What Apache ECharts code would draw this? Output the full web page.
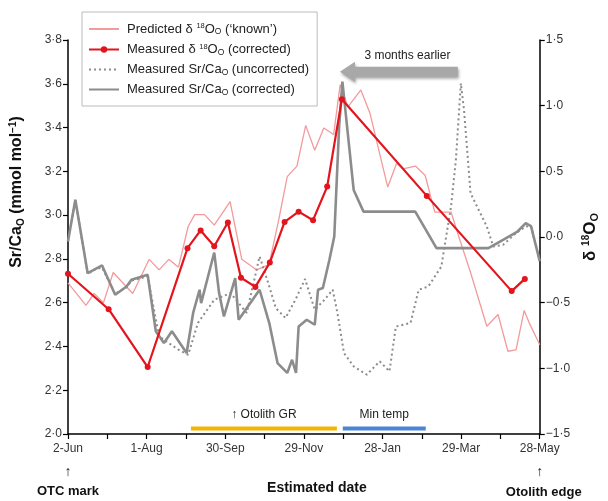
<!DOCTYPE html>
<html><head><meta charset="utf-8">
<script src="https://cdn.jsdelivr.net/npm/echarts@6/dist/echarts.min.js"></script>
<style>html,body{margin:0;padding:0;background:#fff}#c{width:608px;height:501px}</style>
</head><body><div id="c"></div>
<script>
// ---- data (days since 2-Jun) ----
const xTickLabels = ['2-Jun','1-Aug','30-Sep','29-Nov','28-Jan','29-Mar','28-May'];

const predDays = [0,13.7,19.9,27.1,34.5,49.4,62,69.5,76.9,84.3,91.7,96.7,104.2,111.6,123.7,132.6,143.8,153.4,160.8,167.3,174.7,181.4,188.3,195.2,202.7,207.7,213.6,223.5,230.5,244,250.7,256.5,265.1,272.5,279.9,292.3,298.3,307.2,319.6,328.2,335.7,341.9,348.1,351.8,360];
const predVals = [-0.35,-0.52,-0.43,-0.50,-0.27,-0.43,-0.17,-0.25,-0.17,-0.23,0.08,0.17,0.17,0.09,0.27,-0.17,-0.25,-0.21,0.13,0.46,0.54,0.85,0.66,0.83,0.78,1.16,0.99,1.12,0.94,0.38,0.56,0.52,0.54,0.47,0.19,0.19,0.0,-0.27,-0.68,-0.59,-0.87,-0.86,-0.56,-0.65,-0.82];

const measDays = [0,31,60.8,91.2,101.2,111.6,122,132,143,154,165.3,176,187,197.8,209,273.8,338.6,348.6];
const measVals = [-0.28,-0.55,-0.99,-0.085,0.05,-0.07,0.11,-0.31,-0.38,-0.195,0.115,0.193,0.128,0.384,1.049,0.313,-0.412,-0.319];

const uncDays = [0,5.6,15,19.7,26,36,44.7,48.4,60.8,69.5,84.3,91.7,99.2,111.6,124,136.4,146.2,153.6,158.6,166,173.5,180.9,188.3,195.7,202,205.6,210.6,218,228,237.9,245.3,250.2,261.4,267.6,275,284.9,292.3,296,299.8,302.2,307.2,319.6,324.5,332,341.9,349.3,353.3,360];
const uncVals = [2.88,3.07,2.73,2.75,2.76,2.64,2.67,2.70,2.72,2.446,2.385,2.362,2.508,2.613,2.644,2.553,2.811,2.674,2.575,2.53,2.613,2.708,2.568,2.613,2.659,2.553,2.37,2.309,2.271,2.332,2.286,2.491,2.507,2.659,2.674,2.765,3.039,3.252,3.602,3.481,3.1,2.948,2.857,2.864,2.918,2.948,2.95,2.79];

const corDays = [0,5.6,15,19.7,26,36,44.7,48.4,60.8,67,73.2,79.3,90.5,95.5,100.4,101.6,111.6,115.3,119,127.6,130.2,146.2,153.6,159.9,167.3,171,174,176,182.2,188.3,190.8,194.5,199.5,203.2,206.9,209.4,218,225.5,265,281.2,320.8,332,343,349.3,353.3,360];
const corVals = [2.88,3.07,2.735,2.75,2.77,2.636,2.674,2.705,2.727,2.469,2.416,2.469,2.37,2.553,2.659,2.598,2.829,2.644,2.537,2.712,2.522,2.659,2.507,2.324,2.279,2.339,2.279,2.491,2.522,2.499,2.659,2.667,2.796,2.902,3.404,3.61,3.115,3.016,3.016,2.849,2.849,2.887,2.925,2.963,2.95,2.79];

// period bars (start day, end day) at a Sr/Ca level
const grBarDays = [93.8, 205.2];
const tempBarDays = [209.7, 273];
const barLevel = 2.025;

// arrow annotation (days, Sr/Ca level)
const arrowTipDay = 207.5, arrowTailDay = 297.5, arrowLevel = 3.655;
const arrowTextDay = 259, arrowTextLevel = 3.727;

const zip = (a, b) => a.map((d, i) => [d, b[i]]);
const FONT = '"Liberation Sans", Arial, sans-serif';
const dot = v => v.toFixed(1).replace('.', '·').replace('-', '−');

const rich = {
  n: {fontSize: 13, color: '#222', fontFamily: FONT},
  sup: {fontSize: 7.5, color: '#222', fontFamily: FONT, padding: [0, 0, 6, 0]},
  sub: {fontSize: 8.5, color: '#222', fontFamily: FONT, padding: [6, 0, 0, 0]}
};
const legendNames = {
  pred: '{n|Predicted δ }{sup|18}{n|O}{sub|O}{n| (‘known’)}',
  meas: '{n|Measured δ }{sup|18}{n|O}{sub|O}{n| (corrected)}',
  unc: '{n|Measured Sr/Ca}{sub|O}{n| (uncorrected)}',
  cor: '{n|Measured Sr/Ca}{sub|O}{n| (corrected)}'
};

const chart = echarts.init(document.getElementById('c'), null, {renderer: 'canvas'});
const GREY = '#8c8c8c';

chart.setOption({
  animation: false,
  textStyle: {fontFamily: FONT},
  grid: {left: 66, right: 57, top: 40, bottom: 67},
  legend: {
    data: [
      {name: 'pred', itemStyle: {opacity: 0}},
      {name: 'meas'},
      {name: 'unc', itemStyle: {opacity: 0}},
      {name: 'cor', itemStyle: {opacity: 0}}
    ],
    orient: 'vertical', left: 82, top: 12,
    padding: [10, 8, 9, 6],
    itemWidth: 30, itemHeight: 8, itemGap: 6,
    borderColor: '#bbb', borderWidth: 1,
    formatter: n => legendNames[n],
    textStyle: {rich: rich, padding: [0, 0, 0, 3]}
  },
  xAxis: {
    type: 'value', min: 0, max: 360, interval: 30,
    axisLine: {show: true, onZero: false, lineStyle: {color: '#000', width: 1.5}},
    axisTick: {show: true, length: 5, lineStyle: {color: '#000', width: 1.2}},
    axisLabel: {formatter: v => (v % 60 === 0 ? xTickLabels[v / 60] : ''), color: '#333', fontSize: 12, margin: 9},
    splitLine: {show: false},
    name: 'Estimated date', nameLocation: 'middle', nameGap: 47,
    nameTextStyle: {fontWeight: 'bold', fontSize: 14, color: '#111', padding: [0, 0, 0, 26]}
  },
  yAxis: [{
    type: 'value', min: 2.0, max: 3.8, interval: 0.2,
    axisLine: {show: true, onZero: false, lineStyle: {color: '#000', width: 1.5}},
    axisTick: {show: true, length: 5, lineStyle: {color: '#000', width: 1.2}},
    axisLabel: {formatter: dot, color: '#333', fontSize: 12, margin: 6},
    splitLine: {show: false},
    name: '{b|Sr/Ca}{bs|O}{b| (mmol mol}{bp|−1}{b|)}',
    nameLocation: 'middle', nameRotate: 90, nameGap: 42,
    nameTextStyle: {padding: [0, 0, 0, 90], rich: {
      b: {fontWeight: 'bold', fontSize: 16, color: '#111', fontFamily: FONT},
      bs: {fontWeight: 'bold', fontSize: 10, color: '#111', fontFamily: FONT, padding: [8, 0, 0, 0]},
      bp: {fontWeight: 'bold', fontSize: 10, color: '#111', fontFamily: FONT, padding: [0, 0, 8, 0]}
    }}
  }, {
    type: 'value', min: -1.5, max: 1.5, interval: 0.5, position: 'right',
    axisLine: {show: true, onZero: false, lineStyle: {color: '#000', width: 1.5}},
    axisTick: {show: true, length: 5, lineStyle: {color: '#000', width: 1.2}},
    axisLabel: {formatter: dot, color: '#333', fontSize: 12, margin: 6},
    splitLine: {show: false},
    name: '{b|δ }{bp|18}{b|O}{bs|O}',
    nameLocation: 'middle', nameRotate: 90, nameGap: 40,
    nameTextStyle: {rich: {
      b: {fontWeight: 'bold', fontSize: 17, color: '#111', fontFamily: FONT},
      bs: {fontWeight: 'bold', fontSize: 11, color: '#111', fontFamily: FONT, padding: [8, 0, 0, 0]},
      bp: {fontWeight: 'bold', fontSize: 10, color: '#111', fontFamily: FONT, padding: [0, 0, 9, 0]}
    }}
  }],
  series: [
    {name: 'pred', type: 'line', yAxisIndex: 1, data: zip(predDays, predVals), symbol: 'none',
     lineStyle: {color: '#f29a9c', width: 1.3}, itemStyle: {color: '#f29a9c'}, z: 2},
    {name: 'meas', type: 'line', yAxisIndex: 1, data: zip(measDays, measVals), symbol: 'circle', symbolSize: 6,
     lineStyle: {color: '#e3141c', width: 2.2}, itemStyle: {color: '#e3141c'}, z: 6},
    {name: 'unc', type: 'line', yAxisIndex: 0, data: zip(uncDays, uncVals), symbol: 'none',
     lineStyle: {color: GREY, width: 2, type: [2, 3]}, itemStyle: {color: GREY}, z: 3},
    {name: 'cor', type: 'line', yAxisIndex: 0, data: zip(corDays, corVals), symbol: 'none',
     lineStyle: {color: GREY, width: 2.6}, itemStyle: {color: GREY}, z: 4},
    {name: 'gr', type: 'line', yAxisIndex: 0, data: grBarDays.map(d => [d, barLevel]), symbol: 'none',
     lineStyle: {color: '#f4b400', width: 4}, silent: true, z: 1},
    {name: 'temp', type: 'line', yAxisIndex: 0, data: tempBarDays.map(d => [d, barLevel]), symbol: 'none',
     lineStyle: {color: '#4a86d4', width: 4}, silent: true, z: 1}
  ]
});

function px(d, v) { return chart.convertToPixel({xAxisIndex: 0, yAxisIndex: 0}, [d, v]); }
const tip = px(arrowTipDay, arrowLevel), tail = px(arrowTailDay, arrowLevel);
const ay = tip[1], hx = tip[0] + 15;
const atxt = px(arrowTextDay, arrowTextLevel);
const gr0 = px(grBarDays[0], barLevel), gr1 = px(grBarDays[1], barLevel);
const t0 = px(tempBarDays[0], barLevel), t1 = px(tempBarDays[1], barLevel);
const x0 = px(0, 2.0), x1 = px(360, 2.0);

chart.setOption({
  graphic: [
    {type: 'polygon', shape: {points: [[tip[0], ay], [hx, ay - 10], [hx, ay - 5], [tail[0], ay - 5], [tail[0], ay + 5], [hx, ay + 5], [hx, ay + 10]]},
     style: {fill: '#a8a8a8', shadowBlur: 3, shadowColor: 'rgba(0,0,0,0.35)', shadowOffsetX: 1, shadowOffsetY: 2}, z: 10},
    {type: 'text', x: atxt[0], y: atxt[1], style: {text: '3 months earlier', fontSize: 12, fill: '#222', fontFamily: FONT, align: 'center', verticalAlign: 'middle'}, z: 10},
    {type: 'text', x: (gr0[0] + gr1[0]) / 2, y: gr0[1] - 14, style: {text: '↑ Otolith GR', fontSize: 12, fill: '#222', fontFamily: FONT, align: 'center', verticalAlign: 'middle'}},
    {type: 'text', x: (t0[0] + t1[0]) / 2, y: t0[1] - 14, style: {text: 'Min temp', fontSize: 12, fill: '#222', fontFamily: FONT, align: 'center', verticalAlign: 'middle'}},
    {type: 'text', x: x0[0], y: x0[1] + 38, style: {text: '↑', fontSize: 14, fill: '#222', fontFamily: FONT, align: 'center', verticalAlign: 'middle'}},
    {type: 'text', x: x0[0], y: x0[1] + 57, style: {text: 'OTC mark', fontSize: 13, fontWeight: 'bold', fill: '#111', fontFamily: FONT, align: 'center', verticalAlign: 'middle'}},
    {type: 'text', x: x1[0], y: x1[1] + 38, style: {text: '↑', fontSize: 14, fill: '#222', fontFamily: FONT, align: 'center', verticalAlign: 'middle'}},
    {type: 'text', x: x1[0] + 4, y: x1[1] + 58, style: {text: 'Otolith edge', fontSize: 13, fontWeight: 'bold', fill: '#111', fontFamily: FONT, align: 'center', verticalAlign: 'middle'}}
  ]
});
</script></body></html>
